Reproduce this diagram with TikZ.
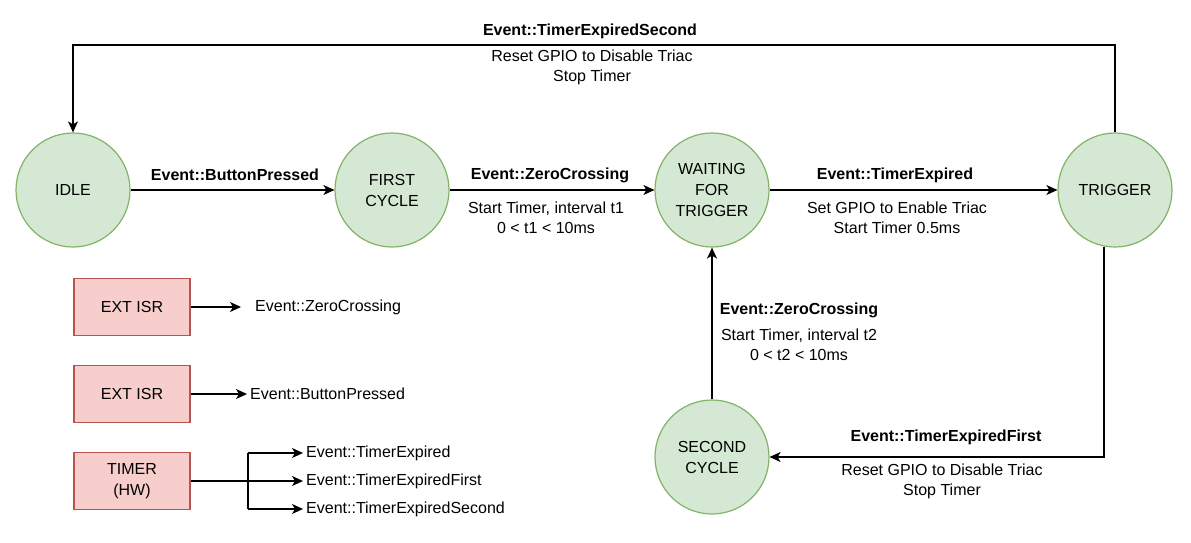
\documentclass[tikz,border=0pt]{standalone}
\usepackage{fontspec}
\setmainfont{Liberation Sans}
\usetikzlibrary{arrows.meta}
\definecolor{statefill}{HTML}{D5E8D4}
\definecolor{stateline}{HTML}{82B366}
\definecolor{isrfill}{HTML}{F8CECC}
\definecolor{isrline}{HTML}{B85450}

\begin{document}
\begin{tikzpicture}[x=1pt, y=-1pt,
  every node/.style={font=\fontsize{16}{21}\selectfont, align=center},
  state/.style={circle, minimum size=114pt, inner sep=0pt, draw=stateline, fill=statefill, line width=1.2pt},
  isr/.style={rectangle, minimum width=116pt, minimum height=57pt, draw=isrline, fill=isrfill, line width=1.2pt},
  evt/.style={anchor=west, inner xsep=3pt},
  lbl/.style={font=\bfseries\fontsize{16}{20}\selectfont},
  act/.style={font=\fontsize{16}{20}\selectfont},
  trans/.style={line width=1.4pt, -{Stealth[length=11pt, width=10pt, inset=3pt]}},
  wire/.style={line width=1.4pt}]
  \useasboundingbox (0,0) rectangle (1191,543);

  \node[state] (idle) at (73,190) {IDLE};
  \node[state] (first) at (392,190) {FIRST\\CYCLE};
  \node[state] (wait) at (712,190) {WAITING\\FOR\\TRIGGER};
  \node[state] (trig) at (1115,190) {TRIGGER};
  \node[state] (second) at (712,457) {SECOND\\CYCLE};

  \draw[trans] (idle) -- (first);
  \draw[trans] (first) -- (wait);
  \draw[trans] (wait) -- (trig);
  \draw[trans] (second) -- (wait);
  \draw[trans] (trig.-101) |- (second.east);
  \coordinate (loop) at (590,45);
  \draw[trans] (trig.north) -- (trig.north |- loop) -| (idle.north);

  \node[lbl] (lbpress) at (235,175) {Event::ButtonPressed};
  \node[lbl] (lzero1) at (550,175) {Event::ZeroCrossing};
  \node[act] (azero1) at (546,218) {Start Timer, interval t1\\0 < t1 < 10ms};
  \node[lbl] (lexp) at (895,175) {Event::TimerExpired};
  \node[act] (aexp) at (897,218) {Set GPIO to Enable Triac\\Start Timer 0.5ms};
  \node[lbl] (lzero2) at (799,310) {Event::ZeroCrossing};
  \node[act] (azero2) at (799,345) {Start Timer, interval t2\\0 < t2 < 10ms};
  \node[lbl] (lfirst) at (946,437) {Event::TimerExpiredFirst};
  \node[act] (afirst) at (942,481) {Reset GPIO to Disable Triac\\Stop Timer};
  \node[lbl] (lsecond) at (590,31) {Event::TimerExpiredSecond};
  \node[act] (asecond) at (592,67) {Reset GPIO to Disable Triac\\Stop Timer};

  \node[isr] (extzero) at (132,307) {EXT ISR};
  \node[isr] (extbtn) at (132,394) {EXT ISR};
  \node[isr] (timer) at (132,481) {TIMER\\(HW)};

  \node[evt, inner xsep=14pt] (evzero) at (241,307) {Event::ZeroCrossing};
  \node[evt] (evbtn) at (247,394) {Event::ButtonPressed};
  \node[evt] (evexp) at (303,453) {Event::TimerExpired};
  \node[evt] (evfirst) at (303,481) {Event::TimerExpiredFirst};
  \node[evt] (evsecond) at (303,509) {Event::TimerExpiredSecond};

  \draw[trans] (extzero) -- (evzero);
  \draw[trans] (extbtn) -- (evbtn);
  \coordinate (fork) at (248,481);
  \draw[wire] (timer) -- (fork);
  \draw[wire] (fork |- evexp) -- (fork |- evsecond);
  \draw[trans] (fork |- evexp) -- (evexp);
  \draw[trans] (fork) -- (evfirst);
  \draw[trans] (fork |- evsecond) -- (evsecond);
\end{tikzpicture}
\end{document}
